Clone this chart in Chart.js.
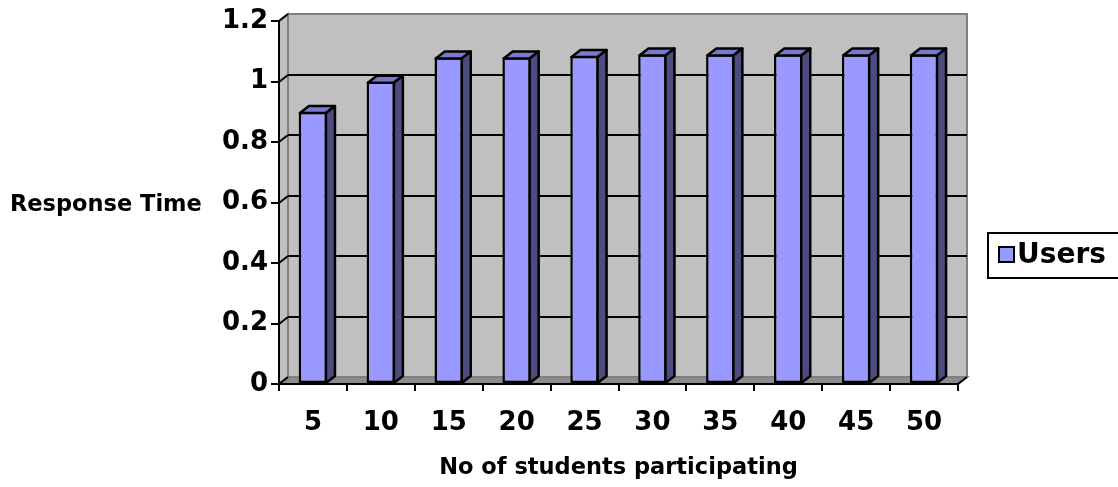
<!DOCTYPE html>
<html>
<head>
<meta charset="utf-8">
<script src="https://cdn.jsdelivr.net/npm/chart.js@4"></script>
<style>
  html, body { margin: 0; padding: 0; background: #ffffff; }
  #wrap { width: 1118px; height: 487px; position: relative; }
</style>
</head>
<body>
<div id="wrap"><canvas id="c" width="1118" height="487"></canvas></div>
<script>
// ---- data ----
const categories = ['5', '10', '15', '20', '25', '30', '35', '40', '45', '50'];
const responseTimes = [0.9, 1.0, 1.08, 1.08, 1.085, 1.09, 1.09, 1.09, 1.09, 1.09];
const yTickLabels = ['0', '0.2', '0.4', '0.6', '0.8', '1', '1.2'];
const seriesLabel = 'Users';
const xAxisTitle = 'No of students participating';
const yAxisTitle = 'Response Time';
const yMin = 0, yMax = 1.2, yStep = 0.2;

// ---- style ----
const FONT = 'DejaVu Sans';
const DX = 9, DY = 7; // 3D depth offset
const FRONT = '#9999FF', TOP = '#7878CC', SIDE = '#4C4C80';
const EDGE = 2.5;

const wallPlugin = {
  id: 'walls',
  beforeDraw(chart) {
    const ctx = chart.ctx;
    const ca = chart.chartArea;
    const ys = chart.scales.y;
    const l = ca.left, r = ca.right, t = ca.top, b = ca.bottom;
    ctx.save();
    ctx.lineJoin = 'miter';
    // back wall
    ctx.fillStyle = '#C0C0C0';
    ctx.strokeStyle = '#808080';
    ctx.lineWidth = 2;
    ctx.fillRect(l + DX, t - DY, r - l, b - t);
    ctx.strokeRect(l + DX, t - DY, r - l, b - t);
    // left wall
    ctx.beginPath();
    ctx.moveTo(l, t); ctx.lineTo(l + DX, t - DY); ctx.lineTo(l + DX, b - DY); ctx.lineTo(l, b); ctx.closePath();
    ctx.fillStyle = '#C0C0C0'; ctx.fill(); ctx.stroke();
    // floor
    ctx.beginPath();
    ctx.moveTo(l, b); ctx.lineTo(l + DX, b - DY); ctx.lineTo(r + DX, b - DY); ctx.lineTo(r, b); ctx.closePath();
    ctx.fillStyle = '#8C8C8C'; ctx.fill(); ctx.stroke();
    // gridlines on back wall + left wall diagonals
    ctx.strokeStyle = '#000000';
    ctx.lineWidth = 2;
    ys.ticks.forEach((tk) => {
      const y = Math.round(ys.getPixelForValue(tk.value));
      ctx.beginPath();
      ctx.moveTo(l, y); ctx.lineTo(l + DX, y - DY);
      ctx.stroke();
      if (tk.value > yMin + 1e-9 && tk.value < yMax - 1e-9) {
        ctx.beginPath();
        ctx.moveTo(l + DX, y - DY); ctx.lineTo(r + DX, y - DY);
        ctx.stroke();
      }
    });
    // right floor edge diagonal
    ctx.beginPath();
    ctx.moveTo(r, b); ctx.lineTo(r + DX, b - DY);
    ctx.stroke();
    ctx.restore();
  },
  afterDatasetsDraw(chart) {
    const ctx = chart.ctx;
    const meta = chart.getDatasetMeta(0);
    ctx.save();
    ctx.strokeStyle = '#000000';
    ctx.lineWidth = EDGE;
    ctx.lineJoin = 'round';
    meta.data.forEach((bar) => {
      const p = bar.getProps(['x', 'y', 'base', 'width'], true);
      const left = p.x - p.width / 2 + EDGE / 2, right = p.x + p.width / 2 - EDGE / 2;
      const top = p.y + EDGE / 2, base = p.base;
      // top face
      ctx.beginPath();
      ctx.moveTo(left, top); ctx.lineTo(left + DX, top - DY); ctx.lineTo(right + DX, top - DY); ctx.lineTo(right, top); ctx.closePath();
      ctx.fillStyle = TOP; ctx.fill(); ctx.stroke();
      // side face
      ctx.beginPath();
      ctx.moveTo(right, top); ctx.lineTo(right + DX, top - DY); ctx.lineTo(right + DX, base - DY); ctx.lineTo(right, base); ctx.closePath();
      ctx.fillStyle = SIDE; ctx.fill(); ctx.stroke();
    });
    ctx.restore();
  },
  afterDraw(chart) {
    const ctx = chart.ctx;
    const ys = chart.scales.y;
    ctx.save();
    // y axis title (horizontal)
    ctx.fillStyle = '#000000';
    ctx.font = 'bold 22.5px "' + FONT + '"';
    ctx.textAlign = 'left';
    ctx.textBaseline = 'middle';
    ctx.fillText(yAxisTitle, 10, ys.getPixelForValue(0.6) + 3);
    // legend
    ctx.fillStyle = '#FFFFFF';
    ctx.strokeStyle = '#000000';
    ctx.lineWidth = 2;
    ctx.fillRect(988, 233, 140, 45);
    ctx.strokeRect(988, 233, 140, 45);
    ctx.fillStyle = chart.data.datasets[0].backgroundColor;
    ctx.lineWidth = 2;
    ctx.fillRect(999, 247, 15, 15);
    ctx.strokeRect(999, 247, 15, 15);
    ctx.fillStyle = '#000000';
    ctx.font = 'bold 28px "' + FONT + '"';
    ctx.textBaseline = 'middle';
    ctx.fillText(chart.data.datasets[0].label, 1017, 256);
    ctx.restore();
  }
};

new Chart(document.getElementById('c'), {
  type: 'bar',
  data: {
    labels: categories,
    datasets: [{
      label: seriesLabel,
      data: responseTimes,
      backgroundColor: FRONT,
      borderColor: '#000000',
      borderWidth: EDGE,
      borderSkipped: false,
      categoryPercentage: 1.0,
      barPercentage: 0.42
    }]
  },
  options: {
    responsive: false,
    animation: false,
    layout: { padding: { left: 0, right: 160, top: 21, bottom: 0 } },
    plugins: { legend: { display: false }, tooltip: { enabled: false } },
    scales: {
      x: {
        grid: { display: true, drawOnChartArea: false, drawTicks: true, tickLength: 7, color: '#000000', lineWidth: 2 },
        border: { display: true, color: '#000000', width: 2 },
        ticks: { color: '#000000', font: { family: FONT, weight: 'bold', size: 26 }, padding: 17, maxRotation: 0, autoSkip: false },
        title: { display: true, text: xAxisTitle, color: '#000000', font: { family: FONT, weight: 'bold', size: 22.5 }, padding: { top: 0, bottom: 5 } },
        afterFit(scale) { scale.height = 103; }
      },
      y: {
        min: yMin, max: yMax,
        grid: { display: true, drawOnChartArea: false, drawTicks: true, tickLength: 8, color: '#000000', lineWidth: 2 },
        border: { display: true, color: '#000000', width: 2 },
        ticks: {
          stepSize: yStep, color: '#000000', font: { family: FONT, weight: 'bold', size: 26 }, padding: 3,
          callback: (value, index) => yTickLabels[index]
        },
        afterFit(scale) { scale.width = 279; }
      }
    }
  },
  plugins: [wallPlugin]
});
</script>
</body>
</html>
